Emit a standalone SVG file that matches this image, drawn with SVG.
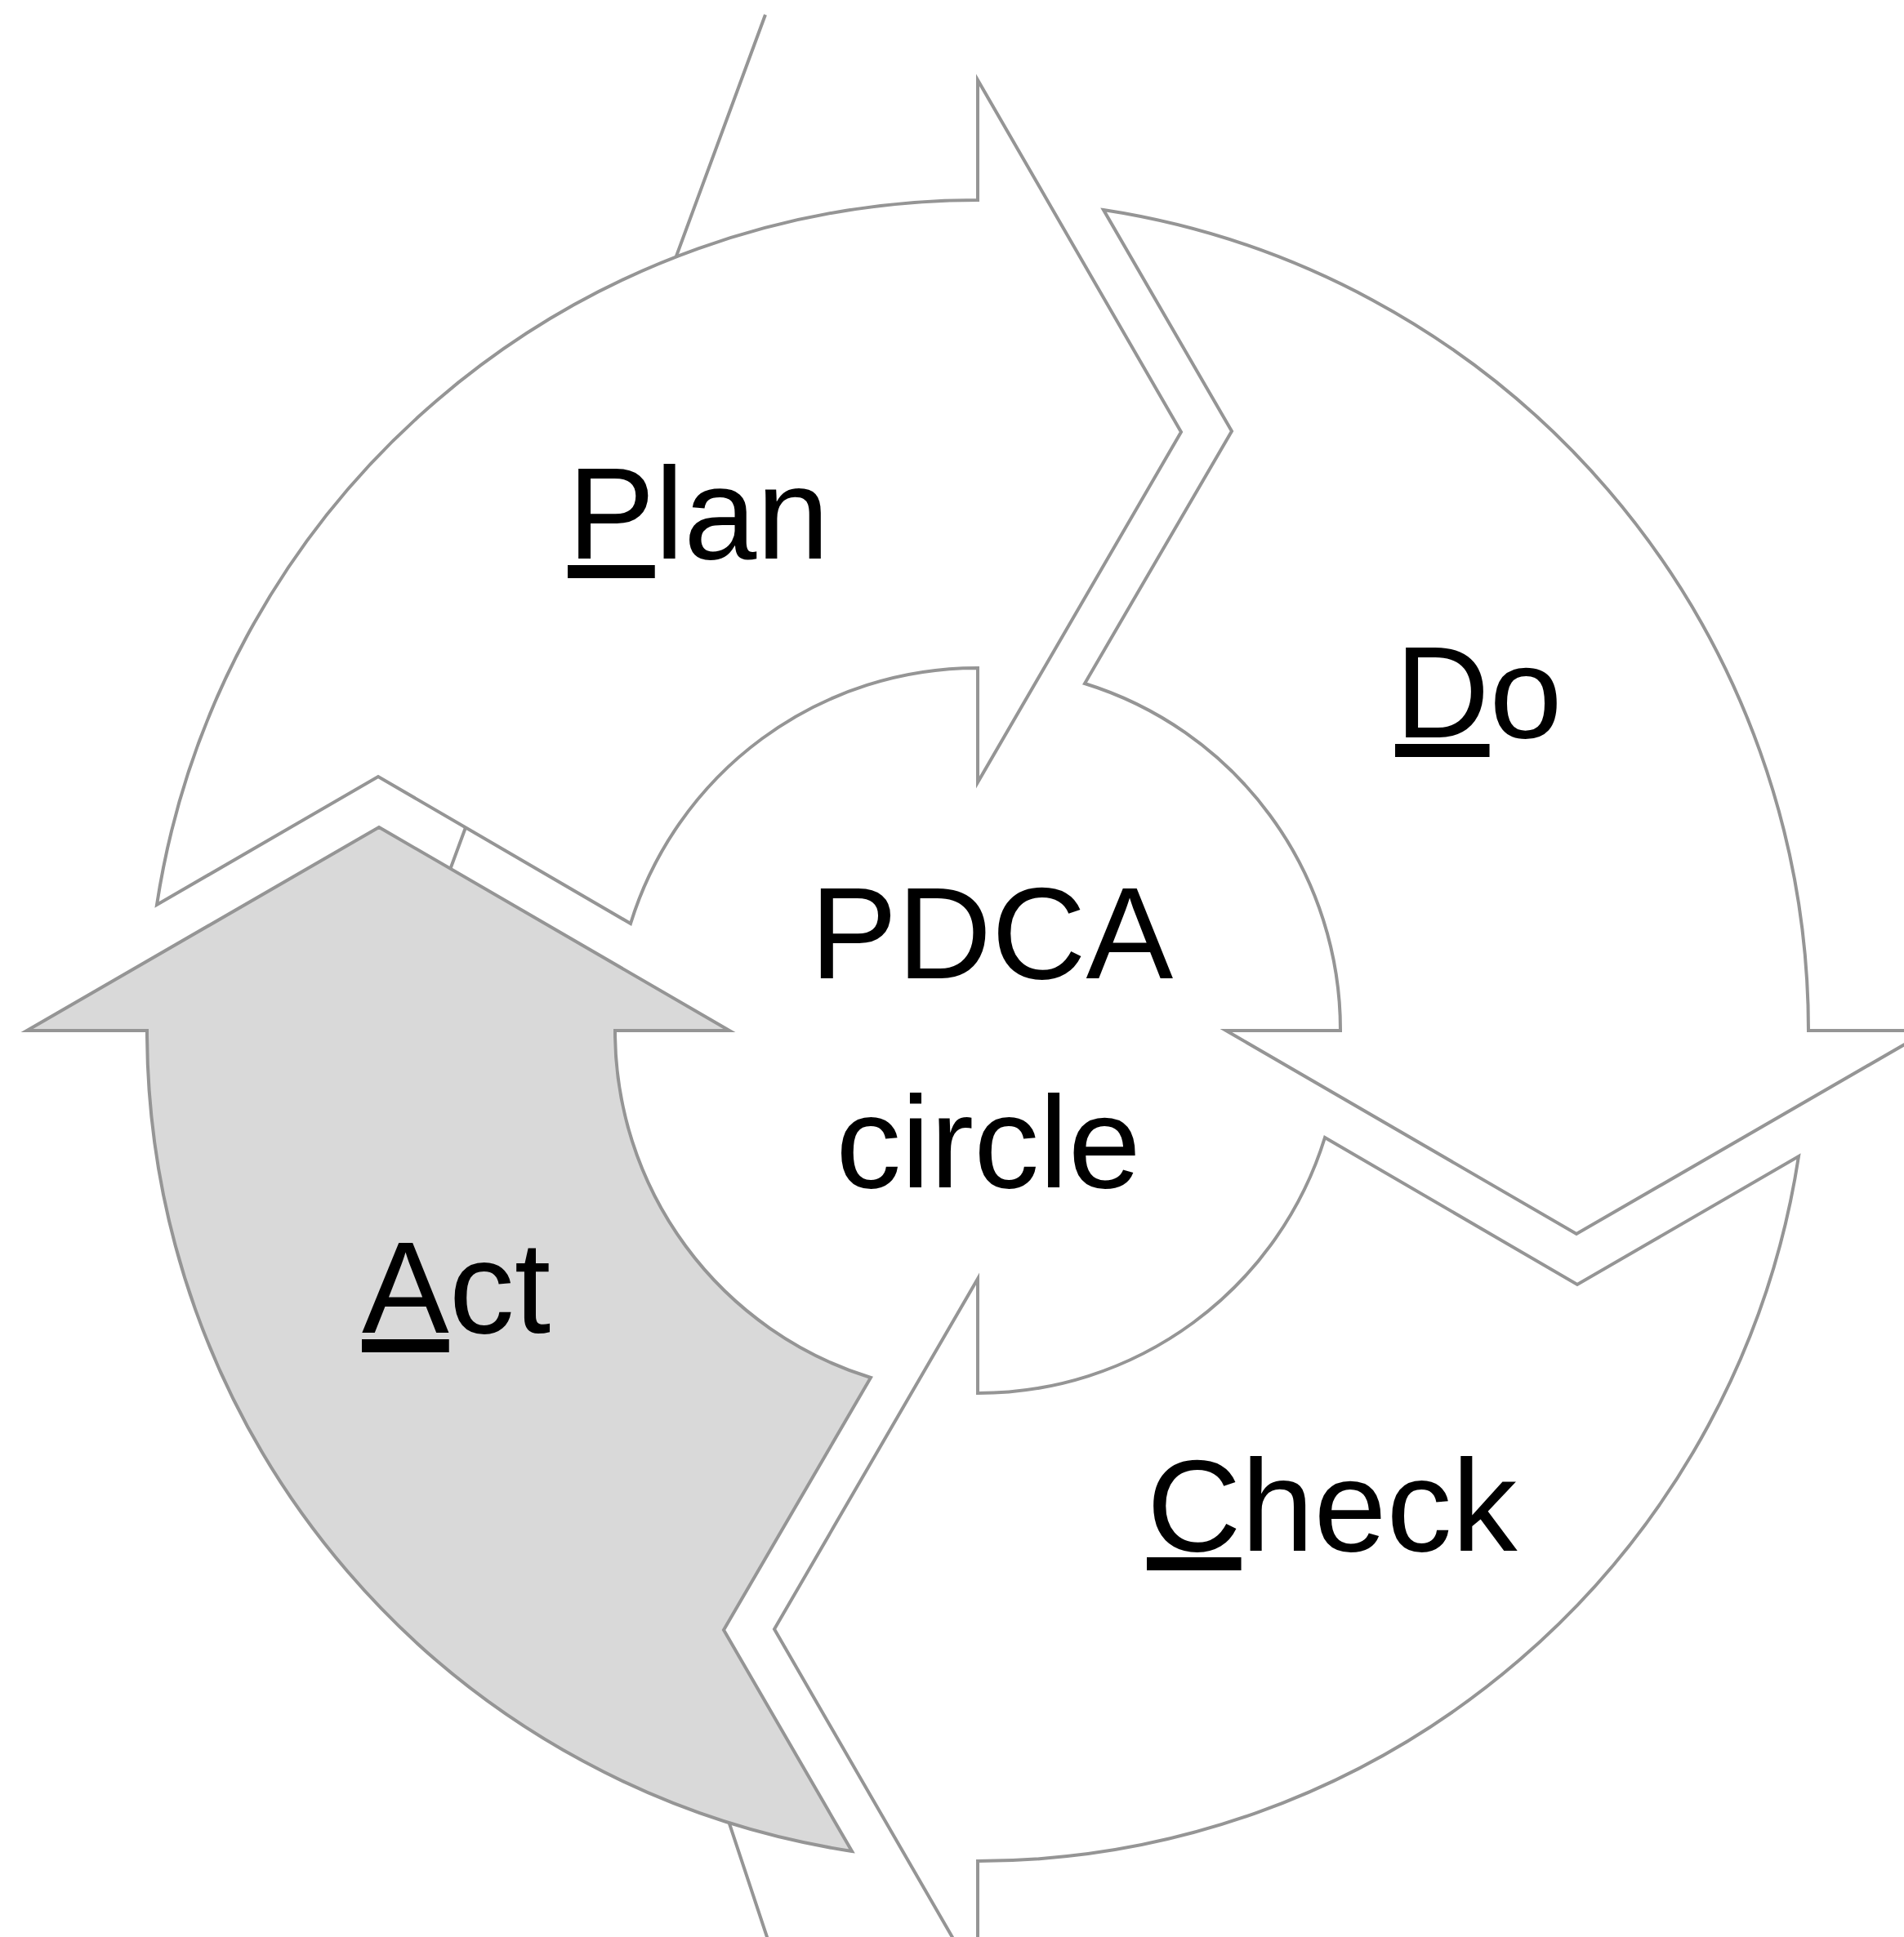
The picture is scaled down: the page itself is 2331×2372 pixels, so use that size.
<svg xmlns="http://www.w3.org/2000/svg" xmlns:xlink="http://www.w3.org/1999/xlink" width="2331" height="2372" viewBox="0 0 2331 2372">
  <style>
    .arrow { fill: #ffffff; stroke: #959595; stroke-width: 4; stroke-linejoin: miter; }
    .arrow.act { fill: #d9d9d9; }
    .bg { fill: none; stroke: #959595; stroke-width: 4; }
    .label { font-family: "Liberation Sans", Arial, sans-serif; font-size: 160px; fill: #000000; }
    .u { text-decoration: underline; }
  </style>
  <defs>
    <path id="arrowShape" d="M -1005,-154 A 1017 1017 0 0 1 0,-1017 L 0,-1164 L 249,-733 L 0,-304 L 0,-444 A 444 444 0 0 0 -425,-131 L -734,-311 Z"/>
  </defs>
  <rect x="0" y="0" width="2331" height="2372" fill="#ffffff"/>

  <g id="background-lines">
    <polyline class="bg" points="937,18 527,1130 945,2390"/>
  </g>

  <g id="plan">
    <use xlink:href="#arrowShape" href="#arrowShape" class="arrow" transform="translate(1197 1262)"/>
    <text class="label" x="695" y="684"><tspan class="u">P</tspan>lan</text>
  </g>

  <g id="do">
    <use xlink:href="#arrowShape" href="#arrowShape" class="arrow" transform="translate(1197 1262) rotate(90)"/>
    <text class="label" x="1708" y="903"><tspan class="u">D</tspan>o</text>
  </g>

  <g id="check">
    <use xlink:href="#arrowShape" href="#arrowShape" class="arrow" transform="translate(1197 1262) rotate(180)"/>
    <text class="label" x="1404" y="1899"><tspan class="u">C</tspan>heck</text>
  </g>

  <g id="act">
    <use xlink:href="#arrowShape" href="#arrowShape" class="arrow act" transform="translate(1197 1262) rotate(270)"/>
    <text class="label" x="443" y="1632"><tspan class="u">A</tspan>ct</text>
  </g>

  <g id="center-label">
    <text class="label" x="1214" y="1198" text-anchor="middle">PDCA</text>
    <text class="label" x="1210" y="1454" text-anchor="middle">circle</text>
  </g>
</svg>
